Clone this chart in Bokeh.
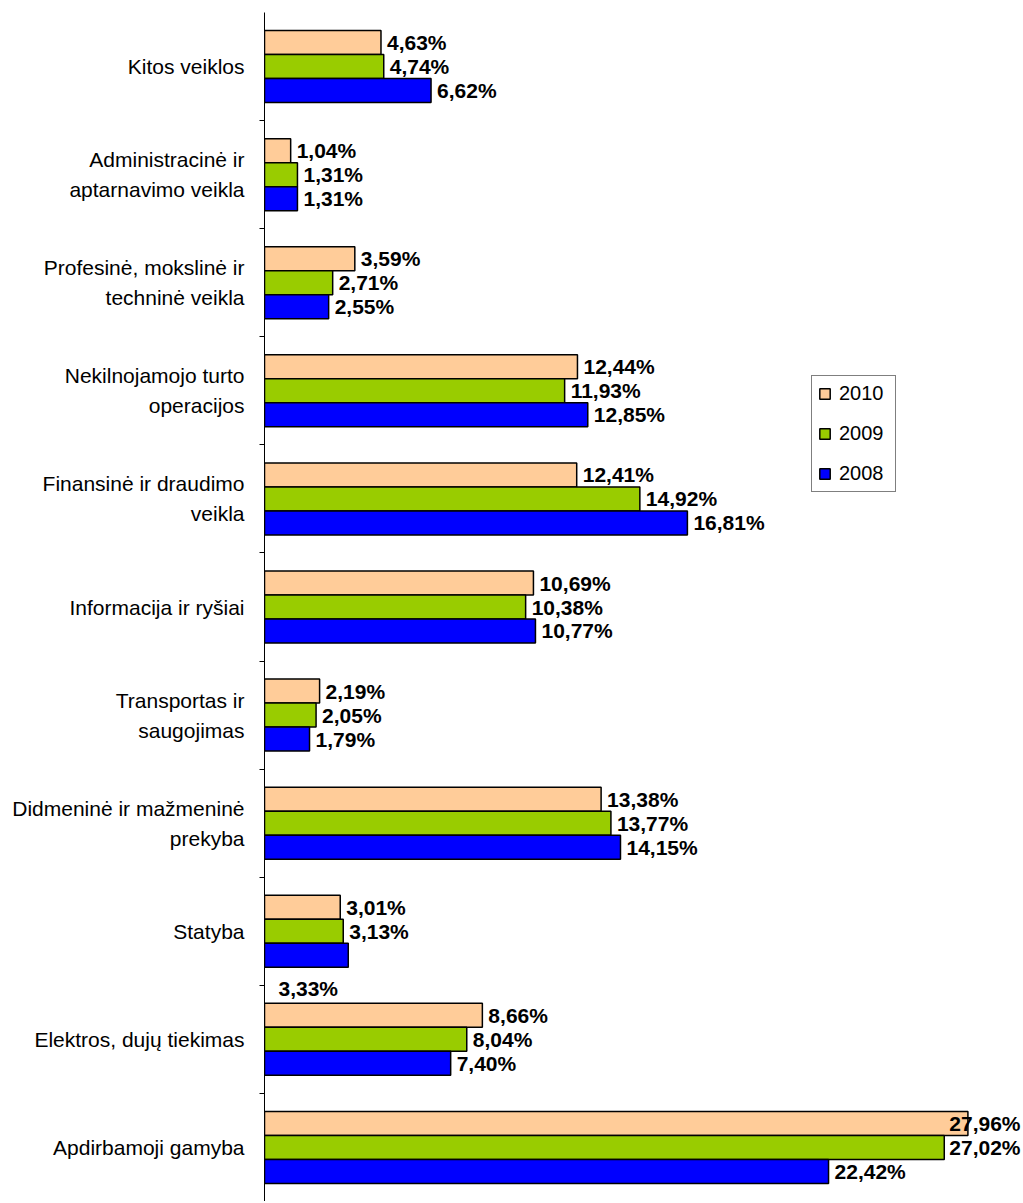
from bokeh.plotting import figure
from bokeh.models import Range1d, LinearAxis, FixedTicker, ColumnDataSource, Legend, LegendItem
from bokeh.embed import file_html
from bokeh.resources import INLINE
from bokeh.core.properties import value

categories = [
    "Kitos veiklos",
    "Administracinė ir\naptarnavimo veikla",
    "Profesinė, mokslinė ir\ntechninė veikla",
    "Nekilnojamojo turto\noperacijos",
    "Finansinė ir draudimo\nveikla",
    "Informacija ir ryšiai",
    "Transportas ir\nsaugojimas",
    "Didmeninė ir mažmeninė\nprekyba",
    "Statyba",
    "Elektros, dujų tiekimas",
    "Apdirbamoji gamyba",
]
years = ["2010", "2009", "2008"]
v2010 = [4.63, 1.04, 3.59, 12.44, 12.41, 10.69, 2.19, 13.38, 3.01, 8.66, 27.96]
v2009 = [4.74, 1.31, 2.71, 11.93, 14.92, 10.38, 2.05, 13.77, 3.13, 8.04, 27.02]
v2008 = [6.62, 1.31, 2.55, 12.85, 16.81, 10.77, 1.79, 14.15, 3.33, 7.40, 22.42]
series = {"2010": v2010, "2009": v2009, "2008": v2008}
colors = {"2010": "#FFCC99", "2009": "#99CC00", "2008": "#0000FF"}

n = len(categories)
XMAX = 30.09
BAR_H = 0.222
offsets = {"2010": BAR_H, "2009": 0.0, "2008": -BAR_H}
centers = [n - i - 0.5 for i in range(n)]

FONT = "Liberation Sans"

p = figure(width=1021, height=1201, x_range=Range1d(0, XMAX), y_range=Range1d(0, n),
           output_backend="svg", toolbar_location=None,
           x_axis_location=None, y_axis_location=None,
           min_border_left=264, min_border_right=0, min_border_top=12, min_border_bottom=0)
p.xgrid.visible = False
p.ygrid.visible = False
p.outline_line_color = None

yaxis = LinearAxis(
    ticker=FixedTicker(ticks=centers, minor_ticks=list(range(1, n))),
    major_label_overrides={c: lab for c, lab in zip(centers, categories)},
    major_tick_out=0, major_tick_in=0,
    minor_tick_out=5, minor_tick_in=0,
    minor_tick_line_color="black",
    major_label_standoff=15,
    major_label_text_font=FONT,
    major_label_text_font_size="21px",
    major_label_text_color="black",
    major_label_text_line_height=1.3,
    axis_line_color="black",
    axis_line_width=1,
)
p.add_layout(yaxis, "left")

items = []
norm = {"x": [], "y": [], "t": []}
right = {"x": [], "y": [], "t": []}
below = {"x": [], "y": [], "t": []}
for yr in years:
    vals = series[yr]
    ys = [c + offsets[yr] for c in centers]
    src = ColumnDataSource(dict(y=ys, v=vals, cat=categories))
    r = p.hbar(y="y", left=0, right="v", height=BAR_H, source=src,
               fill_color=colors[yr], line_color="black", line_width=1.5)
    items.append(LegendItem(label=yr, renderers=[r]))
    for cat, v, yy in zip(categories, vals, ys):
        t = f"{v:.2f}".replace(".", ",") + "%"
        if cat == "Statyba" and yr == "2008":
            below["x"].append(0); below["y"].append(yy); below["t"].append(t)
        elif v > 26:
            right["x"].append(XMAX); right["y"].append(yy); right["t"].append(t)
        else:
            norm["x"].append(v); norm["y"].append(yy); norm["t"].append(t)

lab_kw = dict(text="t", text_font=value(FONT), text_font_style="bold",
              text_font_size="21px", text_baseline="middle", text_color="black")
p.text(x="x", y="y", source=ColumnDataSource(norm), text_align="left", x_offset=6, **lab_kw)
p.text(x="x", y="y", source=ColumnDataSource(right), text_align="right", x_offset=-1, **lab_kw)
p.text(x="x", y="y", source=ColumnDataSource(below), text_align="left", x_offset=14, y_offset=33, **lab_kw)

legend = Legend(items=items, location=(547, 709),
                border_line_color="black", border_line_width=1,
                background_fill_color="white", background_fill_alpha=1,
                label_text_font=FONT, label_text_font_size="20px", label_text_color="black",
                glyph_width=13, glyph_height=13, label_height=20, label_width=50,
                label_standoff=8, spacing=17, padding=6, margin=0)
p.add_layout(legend)

open("out.html", "w").write(file_html(p, INLINE))
